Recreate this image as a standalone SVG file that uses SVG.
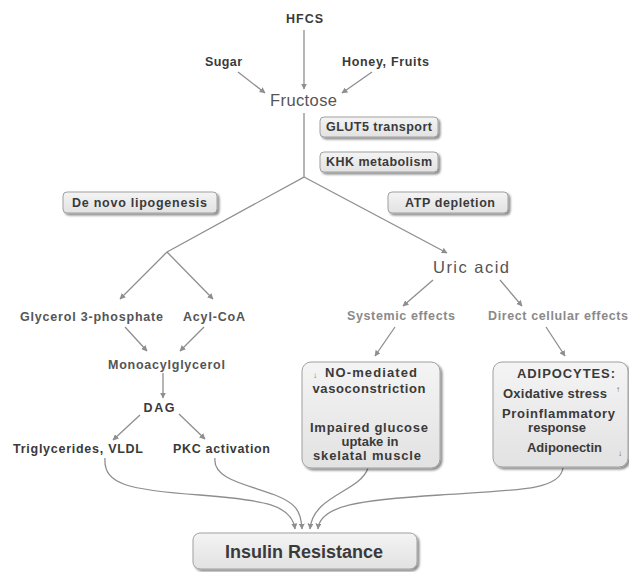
<svg xmlns="http://www.w3.org/2000/svg" width="629" height="572" viewBox="0 0 629 572">
<style>
text{font-family:"Liberation Sans",Arial,sans-serif;font-size:12.5px;font-weight:bold;fill:#3a3a3a;text-anchor:middle}
.mid{fill:#555}
.lt{fill:#8a8a8a}
.bx{font-size:13px}
.big{font-size:16.5px;font-weight:normal;fill:#555}
.ir{font-size:18px;fill:#3a3a3a}
.sm{font-size:8px;font-weight:normal;fill:#666}
.ln{fill:none;stroke:#8e8e8e;stroke-width:1.3;marker-end:url(#ah)}
.box{fill:url(#g);stroke:#a0a0a0;stroke-width:1;filter:url(#sh)}
</style>
<defs>
<linearGradient id="g" x1="0" y1="0" x2="0" y2="1"><stop offset="0" stop-color="#f4f4f4"/><stop offset="1" stop-color="#e2e2e2"/></linearGradient>
<filter id="sh" x="-10%" y="-20%" width="130%" height="150%"><feDropShadow dx="2" dy="2" stdDeviation="1.2" flood-color="#000" flood-opacity="0.45"/></filter>
<marker id="ah" viewBox="0 0 10 10" refX="9" refY="5" markerWidth="6" markerHeight="6" markerUnits="userSpaceOnUse" orient="auto"><path d="M0,0 L10,5 L0,10 z" fill="#8e8e8e"/></marker>
</defs>
<rect width="629" height="572" fill="#fff"/>
<g id="connectors">
<path class="ln" d="M304,30 L304,89"/>
<path class="ln" d="M238,72 L265,93"/>
<path class="ln" d="M372,72 L342,93"/>
<path fill="none" stroke="#8e8e8e" stroke-width="1.3" d="M304,113 L304,177 L167,252"/>
<path class="ln" d="M304,177 L447,253"/>
<path class="ln" d="M167,252 L120,299"/>
<path class="ln" d="M167,252 L213,299"/>
<path class="ln" d="M433,280 L403,306"/>
<path class="ln" d="M500,280 L522,306"/>
<path class="ln" d="M125,327 L147,351"/>
<path class="ln" d="M204,327 L180,351"/>
<path class="ln" d="M163,373 L163,398"/>
<path class="ln" d="M140,415 L113,440"/>
<path class="ln" d="M179,414 L205,439"/>
<path class="ln" d="M395,327 L375,356"/>
<path class="ln" d="M546,327 L565,356"/>
<path class="ln" d="M372,397 L372,418"/>
<path class="ln" d="M105,458 C103,485 130,490 200,495 C265,500 292,505 295,529"/>
<path class="ln" d="M215,458 C212,480 250,485 275,495 C295,503 301,510 302,529"/>
<path class="ln" d="M368,468 C360,492 313,495 310,529"/>
<path class="ln" d="M563,468 C560,490 520,490 440,495 C360,500 320,505 318,529"/>
</g>
<g id="hfcs"><text x="304.5" y="23" textLength="37">HFCS</text></g>
<g id="sugar"><text x="223.5" y="66" textLength="37">Sugar</text></g>
<g id="honey"><text x="385.5" y="66" textLength="87">Honey, Fruits</text></g>
<g id="fructose"><text class="big" x="303.5" y="106" textLength="67">Fructose</text></g>
<g id="glut5"><rect class="box" x="320" y="117" width="118" height="20" rx="4"/><text x="379" y="131" textLength="106">GLUT5 transport</text></g>
<g id="khk"><rect class="box" x="320" y="152" width="118" height="20" rx="4"/><text x="379" y="166" textLength="106">KHK metabolism</text></g>
<g id="dnl"><rect class="box" x="63" y="192" width="154" height="21" rx="4"/><text x="139.5" y="207" textLength="135">De novo lipogenesis</text></g>
<g id="atp"><rect class="box" x="388" y="192" width="120" height="21" rx="4"/><text x="450" y="207" textLength="90">ATP depletion</text></g>
<g id="glycerol"><text class="mid" x="91.5" y="321" textLength="143">Glycerol 3-phosphate</text></g>
<g id="acyl"><text class="mid" x="214" y="321" textLength="62">Acyl-CoA</text></g>
<g id="uric"><text class="big" x="471" y="273" textLength="76">Uric acid</text></g>
<g id="systemic"><text class="lt" x="401" y="320" textLength="108">Systemic effects</text></g>
<g id="direct"><text class="lt" x="558" y="320" textLength="140">Direct cellular effects</text></g>
<g id="mono"><text class="mid" x="166.5" y="369" textLength="117">Monoacylglycerol</text></g>
<g id="dag"><text x="159" y="412" font-size="13" textLength="31">DAG</text></g>
<g id="trig"><text x="78" y="453" textLength="130">Triglycerides, VLDL</text></g>
<g id="pkc"><text x="221.5" y="453" textLength="97">PKC activation</text></g>
<g id="sysbox">
<rect class="box" x="302" y="362" width="138" height="106" rx="9"/>
<text class="sm" x="315" y="378">↓</text>
<text class="bx" x="371" y="377" textLength="92">NO-mediated</text>
<text class="bx" x="369" y="393" textLength="113">vasoconstriction</text>
<text class="bx" x="369" y="432" textLength="118">Impaired glucose</text>
<text class="bx" x="370" y="446">uptake in</text>
<text class="bx" x="367" y="460" textLength="108">skelatal muscle</text>
</g>
<g id="adipo">
<rect class="box" x="493" y="362" width="135" height="105" rx="9"/>
<text class="bx" x="566" y="378" textLength="98">ADIPOCYTES:</text>
<text class="bx" x="555" y="398" textLength="104">Oxidative stress</text>
<text class="sm" x="618" y="392">↑</text>
<text class="bx" x="558.5" y="418" textLength="113">Proinflammatory</text>
<text class="bx" x="557" y="432">response</text>
<text class="bx" x="564.5" y="452" textLength="75">Adiponectin</text>
<text class="sm" x="620" y="456">↓</text>
</g>
<g id="insulin"><rect class="box" x="193" y="533" width="224" height="36" rx="7"/><text class="ir" x="304" y="558" textLength="158">Insulin Resistance</text></g>
</svg>
